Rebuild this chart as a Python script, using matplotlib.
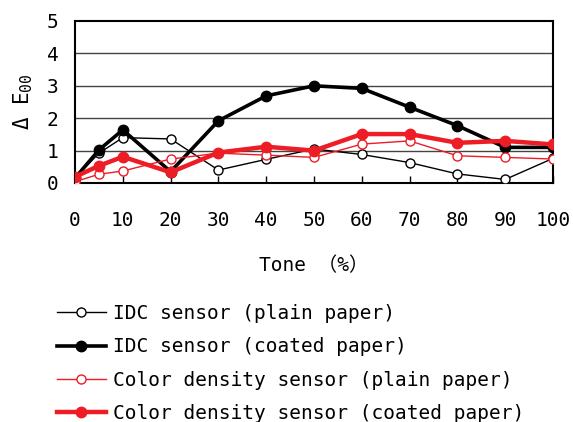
import matplotlib
matplotlib.use("Agg")
import matplotlib.pyplot as plt

tone = [0, 5, 10, 20, 30, 40, 50, 60, 70, 80, 90, 100]
idc_plain = [0.15, 0.92, 1.40, 1.36, 0.40, 0.73, 1.05, 0.88, 0.63, 0.28, 0.11, 0.76]
idc_coated = [0.15, 1.02, 1.64, 0.35, 1.92, 2.69, 3.00, 2.92, 2.34, 1.77, 1.10, 1.10]
cd_plain = [0.04, 0.27, 0.37, 0.74, 0.92, 0.86, 0.79, 1.20, 1.30, 0.84, 0.79, 0.74]
cd_coated = [0.19, 0.53, 0.81, 0.33, 0.94, 1.12, 1.00, 1.51, 1.51, 1.24, 1.30, 1.19]

labels = ["IDC sensor (plain paper)", "IDC sensor (coated paper)",
          "Color density sensor (plain paper)", "Color density sensor (coated paper)"]
xticks = [0, 10, 20, 30, 40, 50, 60, 70, 80, 90, 100]
yticks = [0, 1, 2, 3, 4, 5]

RED = "#ee1c25"
FAM = ["DejaVu Sans Mono", "DejaVu Sans", "Noto Sans CJK JP"]
plt.rcParams["font.family"] = FAM
plt.rcParams["mathtext.fontset"] = "custom"
plt.rcParams["mathtext.rm"] = "DejaVu Sans Mono"
plt.rcParams["mathtext.it"] = "DejaVu Sans Mono"

fig = plt.figure(figsize=(5.73, 4.22), dpi=100)
ax = fig.add_axes([75/573, 1-183/422, (553-75)/573, (183-21)/422])

ax.plot(tone, idc_plain, color="black", lw=1.0, marker="o", ms=6.5,
        mfc="white", mec="black", mew=1.0, label=labels[0], zorder=3)
ax.plot(tone, idc_coated, color="black", lw=2.6, marker="o", ms=7.5,
        mfc="black", mec="black", label=labels[1], zorder=4)
ax.plot(tone, cd_plain, color=RED, lw=1.0, marker="o", ms=6.5,
        mfc="white", mec=RED, mew=1.0, label=labels[2], zorder=5)
ax.plot(tone, cd_coated, color=RED, lw=3.2, marker="o", ms=7.5,
        mfc=RED, mec=RED, label=labels[3], zorder=6)

ax.set_xlim(0, 100)
ax.set_ylim(0, 5)
ax.set_xticks(xticks)
ax.set_yticks(yticks)
ax.tick_params(axis="x", direction="in", length=5, width=1, labelsize=14, pad=20)
ax.tick_params(axis="y", length=0, labelsize=14, pad=12)
for y in yticks[1:-1]:
    ax.axhline(y, color="#444444", lw=1.0, zorder=1)
for s in ax.spines.values():
    s.set_linewidth(1.5)
    s.set_clip_on(False)

ax.set_xlabel("Tone （%）", fontsize=14, labelpad=19)
ax.set_ylabel(r"Δ E$_{\mathrm{00}}$", fontsize=15, labelpad=8)

fig.legend(loc="upper left", bbox_to_anchor=(57/573, 1-304/422), frameon=False,
           fontsize=14, handlelength=2.5, handletextpad=0.4, labelspacing=0.74,
           borderpad=0, borderaxespad=0)

fig.savefig("out.png", dpi=100)
